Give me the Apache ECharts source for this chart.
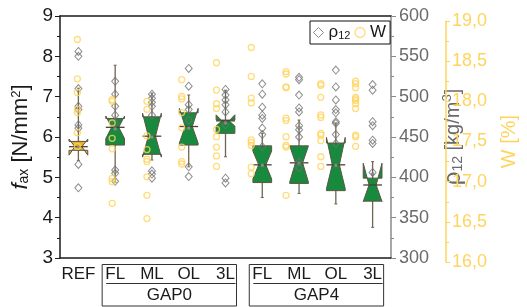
<!DOCTYPE html>
<html>
<head>
<meta charset="utf-8">
<script src="https://cdn.jsdelivr.net/npm/echarts@6/dist/echarts.min.js"></script>
<style>
html, body { margin: 0; padding: 0; background: #fff; }
#chart { width: 527px; height: 307px; }
</style>
</head>
<body>
<div id="chart"></div>
<script>
// categories on the x axis and the two bracket groups
var categories = ['REF', 'FL', 'ML', 'OL', '3L', 'FL', 'ML', 'OL', '3L'];
var groups = [
    { name: 'GAP0', from: 1, to: 4 },
    { name: 'GAP4', from: 5, to: 8 }
];

// f_ax box stats: [whiskerLow, q1, notchLow, median, notchHigh, q3, whiskerHigh, mean]
var faxBoxes = [
    [5.42, 5.67, 5.55, 5.76, 5.95, 5.89, 7.21, 5.75],
    [4.88, 5.80, 5.96, 6.24, 6.52, 6.46, 7.78, 6.20],
    [5.43, 5.57, 5.50, 6.02, 6.59, 6.50, 7.09, 6.00],
    [5.26, 5.80, 5.85, 6.26, 6.71, 6.60, 7.04, 6.22],
    [5.51, 6.09, 6.27, 6.40, 6.55, 6.42, 7.16, 6.35],
    [4.50, 4.87, 4.96, 5.31, 5.65, 5.78, 6.09, 5.30],
    [4.60, 4.85, 4.88, 5.36, 5.78, 5.78, 6.42, 5.35],
    [4.34, 4.67, 4.72, 5.31, 5.99, 5.85, 6.35, 5.30],
    [3.76, 4.41, 4.40, 4.81, 5.35, 4.98, 5.39, 5.08]
];

// density rho12 [kg/m3], one list per category
var rhoValues = [
    [556, 550, 510, 488, 484, 465, 461, 416, 387],
    [519, 503, 488, 477, 467, 409, 405, 395],
    [503, 498, 493, 488, 477, 408, 404, 399],
    [535, 513, 490, 484, 471, 413, 401],
    [509, 502, 496, 490, 481, 465, 399, 393],
    [516, 503, 487, 477, 473, 461, 453, 438],
    [524, 521, 502, 486, 481, 464, 459, 450, 419, 412],
    [533, 512, 496, 484, 480, 469, 467, 453, 442],
    [515, 508, 469, 464, 446, 442, 406]
];

// moisture W [%], one list per category
var wValues = [
    [18.77, 18.28, 18.11, 17.90, 17.86, 17.61, 17.44],
    [18.02, 18.00, 17.73, 17.54, 17.41, 17.04, 17.00, 16.73],
    [18.00, 17.90, 17.57, 17.40, 17.28, 17.25, 17.06, 16.83, 16.54],
    [18.27, 18.06, 18.03, 17.86, 17.67, 17.43, 17.25, 17.22],
    [18.48, 18.14, 17.97, 17.91, 17.65, 17.56, 17.43, 17.32, 17.19],
    [18.67, 18.31, 18.04, 17.98, 17.52, 17.49, 17.45, 17.18, 17.10],
    [18.37, 18.34, 18.18, 18.17, 17.79, 17.76, 17.56, 17.45, 17.43, 16.83],
    [18.22, 18.20, 18.05, 17.83, 17.80, 17.60, 17.58, 17.51, 17.31, 17.19],
    [18.25, 18.22, 18.17, 18.05, 18.03, 18.01, 17.97, 17.91, 17.58, 17.56, 17.44]
];

var FONT = "'Liberation Sans Narrow','Arial Narrow','Liberation Sans',Arial,sans-serif";
var GREY = '#707070';
var YEL = '#ffd45e';

function toPoints(lists) {
    var out = [];
    lists.forEach(function (vals, i) {
        vals.forEach(function (v) { out.push([i, v]); });
    });
    return out;
}

// notched box drawn by hand (origin style, notch may stick out of the box)
function renderBox(params, api) {
    var i = api.value(0);
    var y = function (k) { return api.coord([i, api.value(k)])[1]; };
    var cx = api.coord([i, api.value(4)])[0];
    var half = api.size([1, 0])[0] * 0.255;
    var ind = half * 0.62;
    var ywl = y(1), yq1 = y(2), ynl = y(3), ymed = y(4), ynh = y(5), yq3 = y(6), ywh = y(7), ymean = y(8);
    var pts = [
        [cx - half, yq1], [cx - half, ynl], [cx - half + ind, ymed], [cx - half, ynh], [cx - half, yq3],
        [cx + half, yq3], [cx + half, ynh], [cx + half - ind, ymed], [cx + half, ynl], [cx + half, yq1]
    ];
    var fill = i === 0 ? '#e9b421' : '#178a3d';
    return {
        type: 'group',
        children: [
            { type: 'line', shape: { x1: cx, y1: ywl, x2: cx, y2: ywh }, style: { stroke: '#6e6654', lineWidth: 1.3 } },
            { type: 'line', shape: { x1: cx - 1.5, y1: ywl, x2: cx + 1.5, y2: ywl }, style: { stroke: '#6e6654', lineWidth: 1 } },
            { type: 'line', shape: { x1: cx - 1.5, y1: ywh, x2: cx + 1.5, y2: ywh }, style: { stroke: '#6e6654', lineWidth: 1 } },
            { type: 'polygon', shape: { points: pts }, style: { fill: fill, stroke: '#5c5443', lineWidth: 1 } },
            { type: 'line', shape: { x1: cx - half, y1: ymed, x2: cx + half, y2: ymed }, style: { stroke: '#4a4232', lineWidth: 1.3 } },
            { type: 'rect', shape: { x: cx - 1.5, y: ymean - 1.5, width: 3, height: 3 }, style: { fill: '#8a8a8a' } }
        ]
    };
}

var chart = echarts.init(document.getElementById('chart'));

var option = {
    animation: false,
    textStyle: { fontFamily: FONT },
    grid: [
        { left: 60, right: 136, top: 16, bottom: 49 },
        { left: 60, right: 136, top: 21, bottom: 45 }
    ],
    legend: {
        left: 310, top: 21,
        padding: [3, 4, 3, 3],
        itemGap: 4,
        itemWidth: 10, itemHeight: 10,
        borderColor: '#111', borderWidth: 1,
        textStyle: {
            color: '#1a1a1a', fontSize: 17, fontFamily: FONT,
            rich: {
                a: { fontSize: 17, color: '#1a1a1a', fontFamily: FONT },
                s: { fontSize: 11, color: '#1a1a1a', fontFamily: FONT, verticalAlign: 'bottom' }
            }
        },
        formatter: function (name) {
            return name === 'rho12' ? '{a|ρ}{s|12}' : '{a|W}';
        },
        data: [
            { name: 'rho12', icon: 'diamond', itemStyle: { color: 'transparent', borderColor: GREY, borderWidth: 1 } },
            { name: 'W', icon: 'circle', itemStyle: { color: 'transparent', borderColor: YEL, borderWidth: 1.3 } }
        ]
    },
    xAxis: [
        {
            type: 'category', gridIndex: 0, data: categories,
            axisLine: { lineStyle: { color: '#1a1a1a', width: 1.5 } },
            axisTick: { alignWithLabel: true, length: 4, lineStyle: { color: '#1a1a1a' } },
            axisLabel: { color: '#1a1a1a', fontSize: 17, margin: 8, interval: 0 },
            splitLine: { show: false }
        },
        {
            type: 'category', gridIndex: 0, data: categories, position: 'top',
            axisLine: { lineStyle: { color: '#1a1a1a', width: 1.5 } },
            axisTick: { show: false }, axisLabel: { show: false }, splitLine: { show: false }
        },
        {
            type: 'category', gridIndex: 1, data: categories, show: false
        }
    ],
    yAxis: [
        {
            type: 'value', gridIndex: 0, position: 'left', min: 3, max: 9, interval: 1,
            axisLine: { show: true, lineStyle: { color: '#1a1a1a', width: 1.5 } },
            axisTick: { show: true, length: 5, lineStyle: { color: '#1a1a1a' } },
            minorTick: { show: true, splitNumber: 2, length: 3, lineStyle: { color: '#1a1a1a' } },
            axisLabel: { color: '#1a1a1a', fontSize: 19, margin: 7 },
            splitLine: { show: false },
            name: '{i|f}{sub|ax}{n| [N/mm}{sup|2}{n|]}',
            nameLocation: 'middle', nameRotate: 90, nameGap: 28,
            nameTextStyle: {
                rich: {
                    i: { fontSize: 22, fontStyle: 'italic', color: '#1a1a1a', fontFamily: FONT },
                    sub: { fontSize: 14, color: '#1a1a1a', verticalAlign: 'bottom', fontFamily: FONT },
                    n: { fontSize: 22, color: '#1a1a1a', fontFamily: FONT },
                    sup: { fontSize: 13, color: '#1a1a1a', verticalAlign: 'top', fontFamily: FONT }
                }
            }
        },
        {
            type: 'value', gridIndex: 0, position: 'right', min: 300, max: 600, interval: 50,
            axisLine: { show: true, lineStyle: { color: '#8a8a8a', width: 1.5 } },
            axisTick: { show: true, length: 5, lineStyle: { color: '#8a8a8a' } },
            minorTick: { show: true, splitNumber: 2, length: 3, lineStyle: { color: '#8a8a8a' } },
            axisLabel: { color: '#6a6a6a', fontSize: 18, margin: 8 },
            splitLine: { show: false },
            name: '{r|ρ}{sub|12}{n| [kg/m}{sup|3}{n|]}',
            nameLocation: 'middle', nameRotate: 90, nameGap: 50,
            nameTextStyle: {
                rich: {
                    r: { fontSize: 24, color: '#6a6a6a', fontFamily: FONT },
                    sub: { fontSize: 14, color: '#6a6a6a', verticalAlign: 'bottom', fontFamily: FONT },
                    n: { fontSize: 20, color: '#6a6a6a', fontFamily: FONT },
                    sup: { fontSize: 13, color: '#6a6a6a', verticalAlign: 'top', fontFamily: FONT }
                }
            }
        },
        {
            type: 'value', gridIndex: 1, position: 'right', offset: 73, min: 16, max: 19, interval: 0.5,
            axisLine: { show: true, lineStyle: { color: YEL, width: 1.5 } },
            axisTick: { show: true, length: 4, lineStyle: { color: YEL } },
            minorTick: { show: true, splitNumber: 2, length: 3, lineStyle: { color: YEL } },
            axisLabel: {
                color: YEL, fontSize: 18, margin: 6,
                formatter: function (v) { return v.toFixed(1).replace('.', ','); }
            },
            splitLine: { show: false },
            name: 'W [%]',
            nameLocation: 'middle', nameRotate: 90, nameGap: 53,
            nameTextStyle: { color: YEL, fontSize: 20, fontFamily: FONT }
        }
    ],
    series: [
        {
            type: 'custom', name: 'fax', xAxisIndex: 0, yAxisIndex: 0, z: 2,
            renderItem: renderBox,
            encode: { x: 0, y: [1, 2, 3, 4, 5, 6, 7, 8] },
            data: faxBoxes.map(function (b, i) { return [i].concat(b); })
        },
        {
            type: 'scatter', name: 'rho12', xAxisIndex: 0, yAxisIndex: 1, z: 4,
            symbol: 'diamond', symbolSize: [7, 8],
            itemStyle: { color: 'transparent', borderColor: GREY, borderWidth: 1 },
            data: toPoints(rhoValues)
        },
        {
            type: 'scatter', name: 'W', xAxisIndex: 2, yAxisIndex: 2, z: 5,
            symbol: 'circle', symbolSize: 6,
            itemStyle: { color: 'transparent', borderColor: YEL, borderWidth: 1.3 },
            data: toPoints(wValues)
        }
    ]
};

chart.setOption(option);

// bracket boxes under the categories
var gfx = groups.map(function (g) {
    var x1 = chart.convertToPixel({ xAxisIndex: 0 }, g.from) - 13;
    var x2 = chart.convertToPixel({ xAxisIndex: 0 }, g.to) + 11;
    return {
        type: 'group',
        children: [
            { type: 'rect', shape: { x: x1, y: 264.5, width: x2 - x1, height: 41.5 }, style: { fill: 'none', stroke: '#333', lineWidth: 1 } },
            { type: 'line', shape: { x1: x1 + 4, y1: 283.5, x2: x2 - 1, y2: 283.5 }, style: { stroke: '#333', lineWidth: 1 } },
            { type: 'text', x: (x1 + x2) / 2, y: 295, style: { text: g.name, fontSize: 17, fontFamily: FONT, fill: '#1a1a1a', align: 'center', verticalAlign: 'middle' } }
        ]
    };
});
chart.setOption({ graphic: gfx });
</script>
</body>
</html>
